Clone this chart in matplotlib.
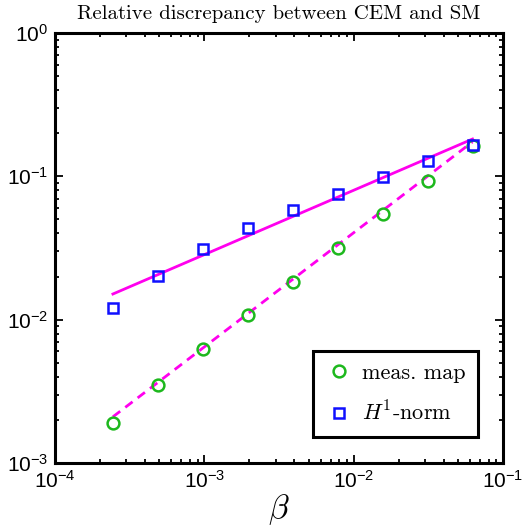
import numpy as np
import matplotlib
matplotlib.use('Agg')
import matplotlib.pyplot as plt

beta = [2.0**-12, 2.0**-11, 2.0**-10, 2.0**-9, 2.0**-8, 2.0**-7, 2.0**-6, 2.0**-5, 2.0**-4]
meas_map = [0.0019, 0.0035, 0.00625, 0.0108, 0.0183, 0.0316, 0.0547, 0.093, 0.162]
h1_norm = [0.0121, 0.0202, 0.0311, 0.0437, 0.0583, 0.0754, 0.099, 0.128, 0.165]

# fitted lines, end points
fit_beta = [2.0**-12, 2.0**-4]
fit_h1 = [0.0151, 0.182]
fit_meas = [0.0021, 0.174]

plt.rcParams['font.family'] = ['Liberation Sans', 'DejaVu Sans']
plt.rcParams['mathtext.fontset'] = 'cm'

fig = plt.figure(figsize=(5.26, 5.32), dpi=100)
ax = fig.add_axes([0.1046, 0.1297, 0.8517, 0.8083])

ax.plot(fit_beta, fit_h1, '-', color='#ff00ee', lw=2)
ax.plot(fit_beta, fit_meas, '--', color='#ff00ee', lw=2, dashes=(3.3, 2.3))
ax.plot(beta, meas_map, 'o', mfc='none', mec='#1db81d', mew=1.8, ms=8.5, label='meas. map')
ax.plot(beta, h1_norm, 's', mfc='none', mec='#1010ff', mew=1.8, ms=7.2, label='$H^1$-norm')

ax.set_xscale('log')
ax.set_yscale('log')
ax.set_xlim(1e-4, 1e-1)
ax.set_ylim(1e-3, 1e0)

for s in ax.spines.values():
    s.set_linewidth(2.2)
ax.tick_params(which='both', direction='in', top=True, right=True, labelsize=15, width=1.3)
ax.tick_params(which='major', length=6)
ax.tick_params(which='minor', length=3)
ax.tick_params(axis='x', pad=5)
ax.tick_params(axis='y', pad=5)

ax.set_title('Relative discrepancy between CEM and SM', fontfamily='cmr10', fontsize=15, pad=10)
ax.set_xlabel(r'$\beta$', fontsize=24, labelpad=0)

leg = ax.legend(loc='lower right', bbox_to_anchor=(0.944, 0.06), prop={'family': 'cmr10', 'size': 16},
                fancybox=False, edgecolor='black', framealpha=1, handletextpad=0.45, borderpad=0.55,
                labelspacing=0.8, handlelength=1.2, borderaxespad=0)
leg.get_frame().set_linewidth(2.2)

fig.savefig('out.png', dpi=100)
